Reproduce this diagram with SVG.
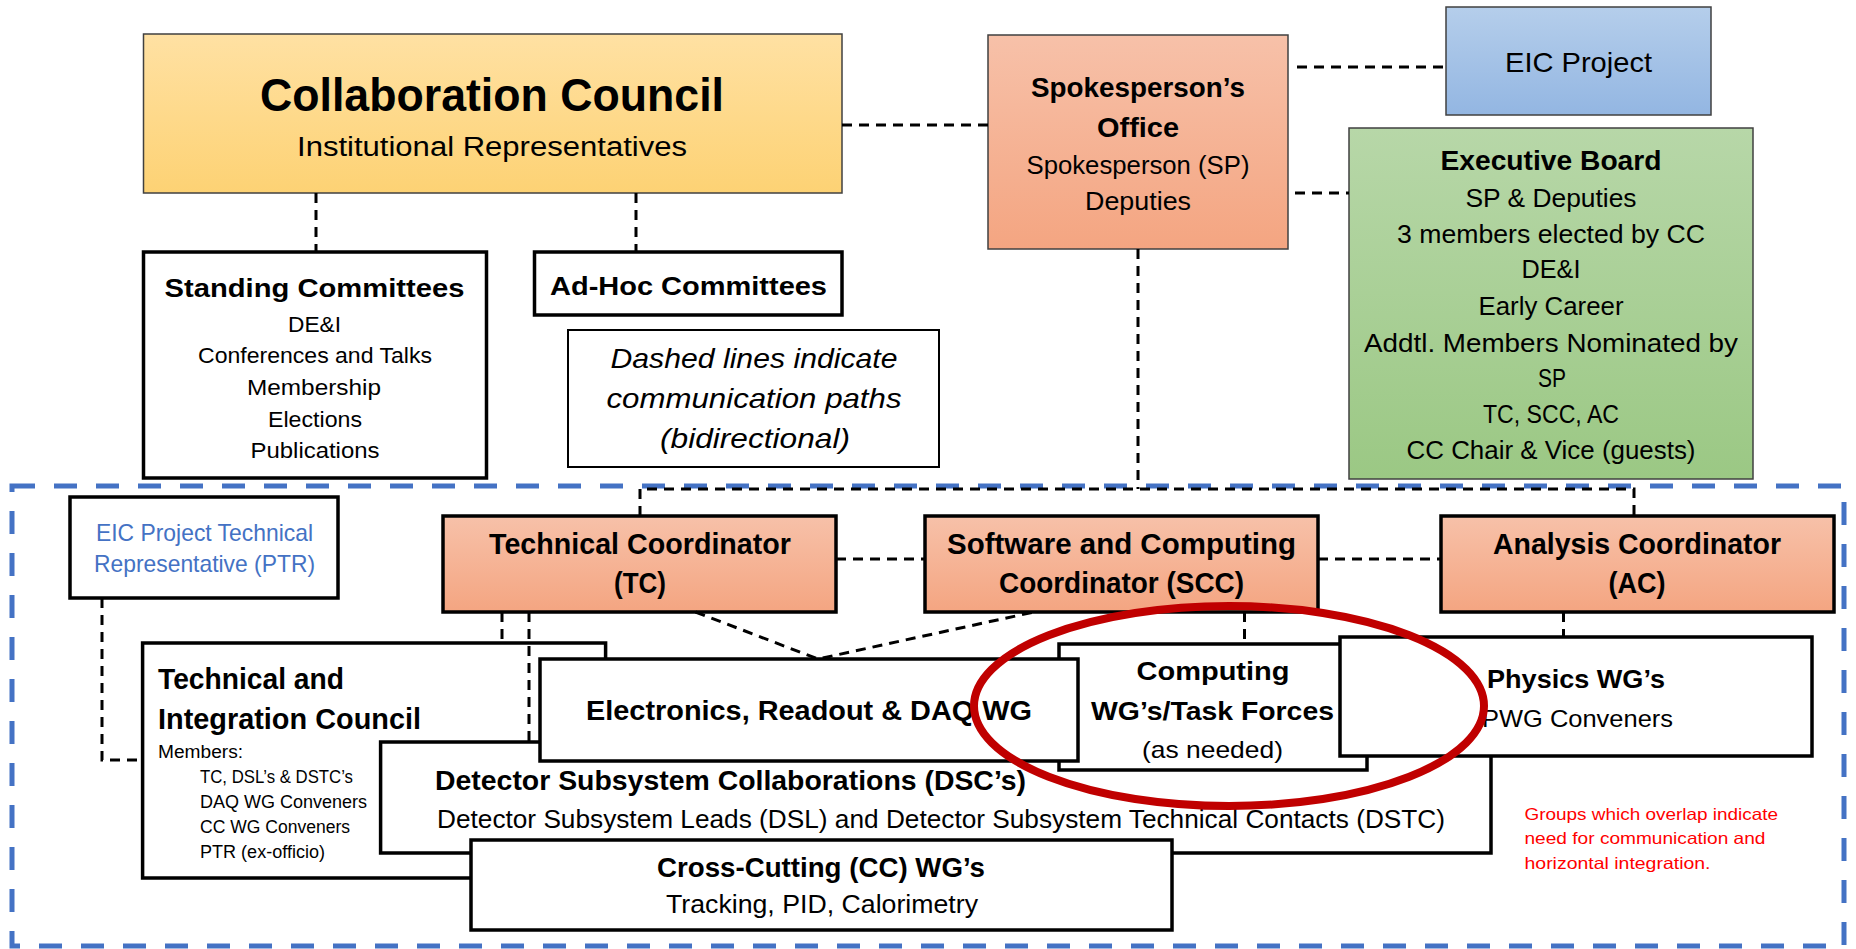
<svg xmlns="http://www.w3.org/2000/svg" width="1856" height="949" viewBox="0 0 1856 949">
<style>
text { font-family: "Liberation Sans", Arial, sans-serif; fill: #000; }
.b { font-weight: bold; }
.i { font-style: italic; }
.m { text-anchor: middle; }
.box { fill: #fff; stroke: #000; stroke-width: 3.5; }
.thin { stroke: #404040; stroke-width: 1.5; }
.coord { fill: url(#gSalmon); stroke: #000; stroke-width: 3.5; }
.conn { fill: none; stroke: #000; stroke-width: 3; stroke-dasharray: 10 7; }
.blue { fill: #4472C4; }
.red { fill: #FF0000; }
</style>
<defs>
<linearGradient id="gYellow" x1="0" y1="0" x2="0" y2="1"><stop offset="0" stop-color="#FFE1A3"/><stop offset="1" stop-color="#FDD274"/></linearGradient>
<linearGradient id="gSalmon" x1="0" y1="0" x2="0" y2="1"><stop offset="0" stop-color="#F7C1A9"/><stop offset="1" stop-color="#F4A581"/></linearGradient>
<linearGradient id="gBlue" x1="0" y1="0" x2="0" y2="1"><stop offset="0" stop-color="#B5CEEB"/><stop offset="1" stop-color="#93B6E2"/></linearGradient>
<linearGradient id="gGreen" x1="0" y1="0" x2="0" y2="1"><stop offset="0" stop-color="#B7D7A8"/><stop offset="1" stop-color="#9BC884"/></linearGradient>
</defs>

<rect id="frame" x="12" y="486" width="1832" height="460" fill="none" stroke="#4472C4" stroke-width="5" stroke-dasharray="23 19"/>

<g id="collaboration-council">
<rect x="143.5" y="34" width="698.5" height="159" fill="url(#gYellow)" class="thin"/>
<text class="b m" x="492" y="111" font-size="47" textLength="464" lengthAdjust="spacingAndGlyphs">Collaboration Council</text>
<text class="m" x="492" y="156" font-size="27" textLength="390" lengthAdjust="spacingAndGlyphs">Institutional Representatives</text>
</g>

<g id="standing-committees">
<rect class="box" x="143.5" y="252" width="343" height="226"/>
<text class="b m" x="314.5" y="297" font-size="26" textLength="300" lengthAdjust="spacingAndGlyphs">Standing Committees</text>
<text class="m" x="314.5" y="332" font-size="22.5" textLength="53" lengthAdjust="spacingAndGlyphs">DE&amp;I</text>
<text class="m" x="315" y="363" font-size="22.5" textLength="234" lengthAdjust="spacingAndGlyphs">Conferences and Talks</text>
<text class="m" x="314" y="395" font-size="22.5" textLength="134" lengthAdjust="spacingAndGlyphs">Membership</text>
<text class="m" x="315" y="427" font-size="22.5" textLength="94" lengthAdjust="spacingAndGlyphs">Elections</text>
<text class="m" x="315" y="458" font-size="22.5" textLength="129" lengthAdjust="spacingAndGlyphs">Publications</text>
</g>

<g id="adhoc-committees">
<rect class="box" x="534.5" y="252" width="307.5" height="63"/>
<text class="b m" x="688.5" y="295" font-size="26" textLength="277" lengthAdjust="spacingAndGlyphs">Ad-Hoc Committees</text>
</g>

<g id="legend-note">
<rect x="568" y="330" width="371" height="137" fill="#fff" stroke="#000" stroke-width="2"/>
<text class="i m" x="754" y="368" font-size="28" textLength="287" lengthAdjust="spacingAndGlyphs">Dashed lines indicate</text>
<text class="i m" x="754" y="408" font-size="28" textLength="295" lengthAdjust="spacingAndGlyphs">communication paths</text>
<text class="i m" x="755" y="448" font-size="28" textLength="190" lengthAdjust="spacingAndGlyphs">(bidirectional)</text>
</g>

<g id="spokesperson-office">
<rect x="988" y="35" width="300" height="214" fill="url(#gSalmon)" class="thin"/>
<text class="b m" x="1138" y="97" font-size="27.5" textLength="214" lengthAdjust="spacingAndGlyphs">Spokesperson’s</text>
<text class="b m" x="1138" y="137" font-size="27.5" textLength="82" lengthAdjust="spacingAndGlyphs">Office</text>
<text class="m" x="1138" y="174" font-size="25" textLength="223" lengthAdjust="spacingAndGlyphs">Spokesperson (SP)</text>
<text class="m" x="1138" y="210" font-size="25" textLength="106" lengthAdjust="spacingAndGlyphs">Deputies</text>
</g>

<g id="eic-project">
<rect x="1446" y="7" width="265" height="108" fill="url(#gBlue)" class="thin"/>
<text class="m" x="1578.5" y="72" font-size="28" textLength="147" lengthAdjust="spacingAndGlyphs">EIC Project</text>
</g>

<g id="executive-board">
<rect x="1349" y="128" width="404" height="351" fill="url(#gGreen)" class="thin"/>
<text class="b m" x="1551" y="170" font-size="28" textLength="221" lengthAdjust="spacingAndGlyphs">Executive Board</text>
<text class="m" x="1551" y="207" font-size="25" textLength="171" lengthAdjust="spacingAndGlyphs">SP &amp; Deputies</text>
<text class="m" x="1551" y="243" font-size="25" textLength="308" lengthAdjust="spacingAndGlyphs">3 members elected by CC</text>
<text class="m" x="1551" y="278" font-size="25" textLength="59" lengthAdjust="spacingAndGlyphs">DE&amp;I</text>
<text class="m" x="1551" y="315" font-size="25" textLength="145" lengthAdjust="spacingAndGlyphs">Early Career</text>
<text class="m" x="1551" y="352" font-size="25" textLength="374" lengthAdjust="spacingAndGlyphs">Addtl. Members Nominated by</text>
<text class="m" x="1552" y="387" font-size="25" textLength="28" lengthAdjust="spacingAndGlyphs">SP</text>
<text class="m" x="1551" y="423" font-size="25" textLength="136" lengthAdjust="spacingAndGlyphs">TC, SCC, AC</text>
<text class="m" x="1551" y="459" font-size="25" textLength="289" lengthAdjust="spacingAndGlyphs">CC Chair &amp; Vice (guests)</text>
</g>

<g id="ptr">
<rect class="box" x="70" y="497" width="268" height="101"/>
<text class="m blue" x="204.5" y="541" font-size="24" textLength="217" lengthAdjust="spacingAndGlyphs">EIC Project Technical</text>
<text class="m blue" x="204.5" y="572" font-size="24" textLength="221" lengthAdjust="spacingAndGlyphs">Representative (PTR)</text>
</g>

<g id="technical-coordinator">
<rect class="coord" x="443" y="516" width="393" height="96"/>
<text class="b m" x="640" y="554" font-size="29" textLength="302" lengthAdjust="spacingAndGlyphs">Technical Coordinator</text>
<text class="b m" x="640" y="593" font-size="29" textLength="52" lengthAdjust="spacingAndGlyphs">(TC)</text>
</g>

<g id="scc">
<rect class="coord" x="925" y="516" width="393" height="96"/>
<text class="b m" x="1121.5" y="554" font-size="29" textLength="349" lengthAdjust="spacingAndGlyphs">Software and Computing</text>
<text class="b m" x="1121.5" y="593" font-size="29" textLength="245" lengthAdjust="spacingAndGlyphs">Coordinator (SCC)</text>
</g>

<g id="analysis-coordinator">
<rect class="coord" x="1441" y="516" width="393" height="96"/>
<text class="b m" x="1637" y="554" font-size="29" textLength="288" lengthAdjust="spacingAndGlyphs">Analysis Coordinator</text>
<text class="b m" x="1637" y="593" font-size="29" textLength="57" lengthAdjust="spacingAndGlyphs">(AC)</text>
</g>

<g id="tic">
<rect class="box" x="142.6" y="643" width="463" height="235"/>
<text class="b" x="158" y="689" font-size="29" textLength="186" lengthAdjust="spacingAndGlyphs">Technical and</text>
<text class="b" x="158" y="729" font-size="29" textLength="263" lengthAdjust="spacingAndGlyphs">Integration Council</text>
<text x="158" y="758" font-size="18" textLength="85" lengthAdjust="spacingAndGlyphs">Members:</text>
<text x="200" y="783" font-size="18" textLength="153" lengthAdjust="spacingAndGlyphs">TC, DSL’s &amp; DSTC’s</text>
<text x="200" y="808" font-size="18" textLength="167" lengthAdjust="spacingAndGlyphs">DAQ WG Conveners</text>
<text x="200" y="833" font-size="18" textLength="150" lengthAdjust="spacingAndGlyphs">CC WG Conveners</text>
<text x="200" y="858" font-size="18" textLength="125" lengthAdjust="spacingAndGlyphs">PTR (ex-officio)</text>
</g>

<g id="dsc">
<rect class="box" x="380.6" y="742" width="1110.4" height="111"/>
<text class="b" x="435" y="790" font-size="28" textLength="591" lengthAdjust="spacingAndGlyphs">Detector Subsystem Collaborations (DSC’s)</text>
<text x="437" y="828" font-size="25" textLength="1008" lengthAdjust="spacingAndGlyphs">Detector Subsystem Leads (DSL) and Detector Subsystem Technical Contacts (DSTC)</text>
</g>

<g id="cross-cutting">
<rect class="box" x="471" y="840" width="701" height="90"/>
<text class="b m" x="821" y="877" font-size="27" textLength="328" lengthAdjust="spacingAndGlyphs">Cross-Cutting (CC) WG’s</text>
<text class="m" x="822" y="913" font-size="25" textLength="312" lengthAdjust="spacingAndGlyphs">Tracking, PID, Calorimetry</text>
</g>

<g id="computing">
<rect class="box" x="1059" y="644" width="308" height="126"/>
<text class="b m" x="1213" y="680" font-size="26" textLength="153" lengthAdjust="spacingAndGlyphs">Computing</text>
<text class="b m" x="1212.5" y="720" font-size="26" textLength="243" lengthAdjust="spacingAndGlyphs">WG’s/Task Forces</text>
<text class="m" x="1212.5" y="758" font-size="24" textLength="141" lengthAdjust="spacingAndGlyphs">(as needed)</text>
</g>

<g id="electronics">
<rect class="box" x="540" y="659" width="538" height="102"/>
<text class="b m" x="809" y="720" font-size="27" textLength="446" lengthAdjust="spacingAndGlyphs">Electronics, Readout &amp; DAQ WG</text>
</g>

<g id="physics">
<rect class="box" x="1340" y="637" width="472" height="119"/>
<text class="b m" x="1576" y="688" font-size="26" textLength="178" lengthAdjust="spacingAndGlyphs">Physics WG’s</text>
<text class="m" x="1577.5" y="727" font-size="24" textLength="191" lengthAdjust="spacingAndGlyphs">PWG Conveners</text>
</g>

<g id="connectors">
<path class="conn" d="M842 125 H988"/>
<path class="conn" d="M1297 67 H1446"/>
<path class="conn" d="M1295 193 H1349"/>
<path class="conn" d="M316 193 V252"/>
<path class="conn" d="M636 193 V252"/>
<path class="conn" d="M1138 249 V489"/>
<path class="conn" d="M640 516 V489 H1634 V516"/>
<path class="conn" d="M836 559 H925"/>
<path class="conn" d="M1318 559 H1441"/>
<path class="conn" d="M695.5 612 L818 659 L1034 612"/>
<path class="conn" d="M502 612 V643"/>
<path class="conn" d="M529 612 V742"/>
<path class="conn" d="M1244.5 612 V644"/>
<path class="conn" d="M1563.5 612 V637"/>
<path class="conn" d="M102 598 V760 H142"/>
</g>

<g id="overlap-highlight">
<ellipse cx="1229" cy="706" rx="255" ry="100" fill="none" stroke="#C00000" stroke-width="8"/>
</g>

<g id="overlap-note">
<text class="red" x="1524.5" y="820" font-size="16.5" textLength="253.5" lengthAdjust="spacingAndGlyphs">Groups which overlap indicate</text>
<text class="red" x="1524.5" y="844" font-size="16.5" textLength="241" lengthAdjust="spacingAndGlyphs">need for communication and</text>
<text class="red" x="1524.5" y="869" font-size="16.5" textLength="186" lengthAdjust="spacingAndGlyphs">horizontal integration.</text>
</g>
</svg>
